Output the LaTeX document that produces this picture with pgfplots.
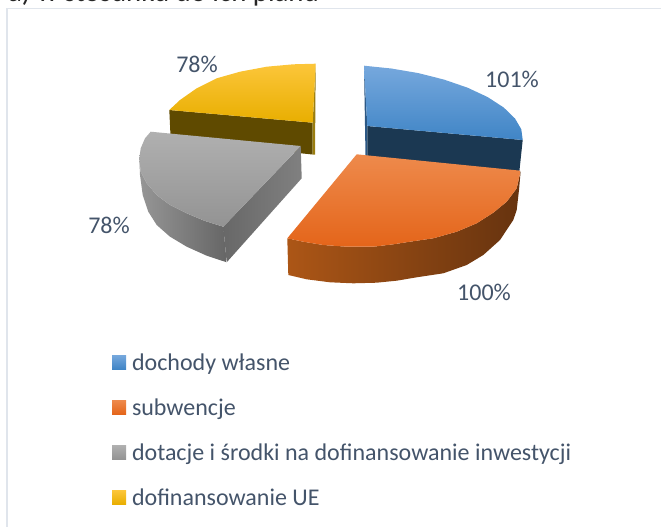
\documentclass[border=0pt]{standalone}
\usepackage{fontspec}
\setmainfont{Carlito}
\usepackage{pgfplots}
\pgfplotsset{compat=1.18}

\definecolor{lbl}{HTML}{44546A}
\definecolor{frame}{HTML}{E0E5EC}

\begin{document}
\begin{tikzpicture}
  % page is exactly the axis box, the title runs off its top edge
  \useasboundingbox (0,0) rectangle (661pt,527pt);
  \begin{axis}[
      at={(0,0)}, anchor=south west,
      width=661pt, height=527pt, scale only axis,
      xmin=0, xmax=661, ymin=0, ymax=527,
      y dir=reverse,
      hide axis,
      clip=false,
      legend image code/.code={\path[#1,draw=none] (0pt,-8pt) rectangle (14pt,6pt);},
      legend style={
          at={(axis cs:112,350.5)}, anchor=north west,
          draw=none, fill=none, inner sep=0pt, outer sep=0pt,
          text=lbl, font=\fontsize{24}{28}\selectfont,
          row sep=24pt,
          nodes={inner sep=0pt, outer sep=0pt},
          /tikz/every odd column/.style={column sep=6pt},
        },
      legend cell align=left,
    ]

    % chart frame
    \addplot[frame, line width=2pt, forget plot] coordinates {(7,527) (7,8.5)};
    \addplot[frame, line width=1pt, forget plot] coordinates {(6,8.5) (661,8.5)};

    % blue slice
    \addplot[fill={rgb,255:red,44;green,88;blue,132}, draw=none, forget plot] coordinates {
        (364,65.7) (367.3,126) (367.3,156) (365.5,156)};
    \addplot[fill={rgb,255:red,27;green,56;blue,82}, draw=none, forget plot] coordinates {
        (367.3,126) (522.7,140) (519.3,172) (367.3,158)};
    \addplot[top color={rgb,255:red,118;green,168;blue,221}, bottom color={rgb,255:red,64;green,133;blue,198}, draw=none] coordinates {
        (364,65.7) (391.3,68.5) (418.3,73.1) (444.1,79.6) (467.6,87.7) (487.7,97.1)
        (503.7,107.5) (515,118.5) (521.3,129.3) (522.7,140) (367.3,126)};
    \addlegendentry{\strut dochody własne}

    % orange slice
    \addplot[left color={rgb,255:red,172;green,86;blue,22}, middle color={rgb,255:red,94;green,45;blue,11}, right color={rgb,255:red,102;green,51;blue,15}, draw=none, forget plot] coordinates {
        (287.3,238.3) (303.3,241.7) (323.3,245) (346.7,246.7) (373.3,246.7) (393.3,244.3)
        (410,241.7) (433.3,238.3) (456.7,231.7) (476.7,223.3) (493.3,212.7) (506.7,201.7)
        (516.7,188.3) (520.7,170.7) (519,190) (516.7,210) (513.3,220) (500,240) (483.3,255)
        (466.7,265) (443.3,273.3) (416.7,277.3) (396.7,280.7) (376.7,282.7) (353.3,283.3)
        (330,282.3) (306.7,279.3) (288.3,275)};
    \addplot[top color={rgb,255:red,238;green,138;blue,76}, middle color={rgb,255:red,240;green,122;blue,40}, bottom color={rgb,255:red,228;green,101;blue,26}, draw=none] coordinates {
        (356.7,154.3) (520.7,170.7) (516.7,188.3) (506.7,201.7) (493.3,212.7) (476.7,223.3)
        (456.7,231.7) (433.3,238.3) (410,241.7) (393.3,244.3) (373.3,246.7) (346.7,246.7)
        (323.3,245) (303.3,241.7) (287.3,238.3)};
    \addlegendentry{\strut subwencje}

    % yellow walls, under the grey slice
    \addplot[fill={rgb,255:red,95;green,74;blue,0}, draw=none, forget plot] coordinates {
        (169.3,110) (312.7,122.7) (312.7,154.5) (170.7,140)};
    \addplot[fill={rgb,255:red,154;green,125;blue,16}, draw=none, forget plot] coordinates {
        (315.7,63.7) (312.7,122.7) (312.7,154.5) (315,154.5)};

    % grey slice
    \addplot[left color={rgb,255:red,150;green,150;blue,150}, right color={rgb,255:red,102;green,102;blue,102}, draw=none, forget plot] coordinates {
        (139.3,158.3) (140.7,171.7) (146.7,183.3) (156.7,195) (170,205) (186.7,213.3)
        (205,221) (223.3,226.7) (226.7,262.3) (206.7,255.7) (186.7,246.7) (170,236.7)
        (156.7,225) (148.3,211.7) (142.7,195) (140,175)};
    \addplot[left color={rgb,255:red,104;green,104;blue,104}, right color={rgb,255:red,128;green,128;blue,128}, draw=none, forget plot] coordinates {
        (300.7,146) (223.3,226.7) (226.7,262.3) (301.7,178.3)};
    \addplot[top color={rgb,255:red,176;green,176;blue,176}, bottom color={rgb,255:red,147;green,147;blue,147}, draw=none] coordinates {
        (150.7,131.7) (300.7,146) (223.3,226.7) (205,221) (186.7,213.3) (170,205) (156.7,195)
        (146.7,183.3) (140.7,171.7) (139.3,158.3) (140.7,148.3) (145,138.3)};
    \addlegendentry{\strut dotacje i środki na dofinansowanie inwestycji}

    % yellow top
    \addplot[top color={rgb,255:red,252;green,198;blue,58}, middle color={rgb,255:red,251;green,194;blue,0}, bottom color={rgb,255:red,232;green,174;blue,0}, draw=none] coordinates {
        (169.3,110) (180,100) (196.7,88.3) (216.7,78.3) (240,71.7) (266.7,66.7) (293.3,64.3)
        (315.7,63.7) (312.7,122.7)};
    \addlegendentry{\strut dofinansowanie UE}

    % data labels
    \node[text=lbl, font=\fontsize{24}{28}\selectfont] at (axis cs:512,79) {101\%};
    \node[text=lbl, font=\fontsize{24}{28}\selectfont] at (axis cs:484,292) {100\%};
    \node[text=lbl, font=\fontsize{24}{28}\selectfont] at (axis cs:109,225) {78\%};
    \node[text=lbl, font=\fontsize{24}{28}\selectfont] at (axis cs:197,64) {78\%};

    % title, cut off by the top edge as in the source
    \node[anchor=base west, inner sep=0pt, font=\fontsize{28.8}{34}\selectfont, text=black!85] at (axis cs:8,2) {a) w stosunku do ich planu};
  \end{axis}
\end{tikzpicture}
\end{document}
